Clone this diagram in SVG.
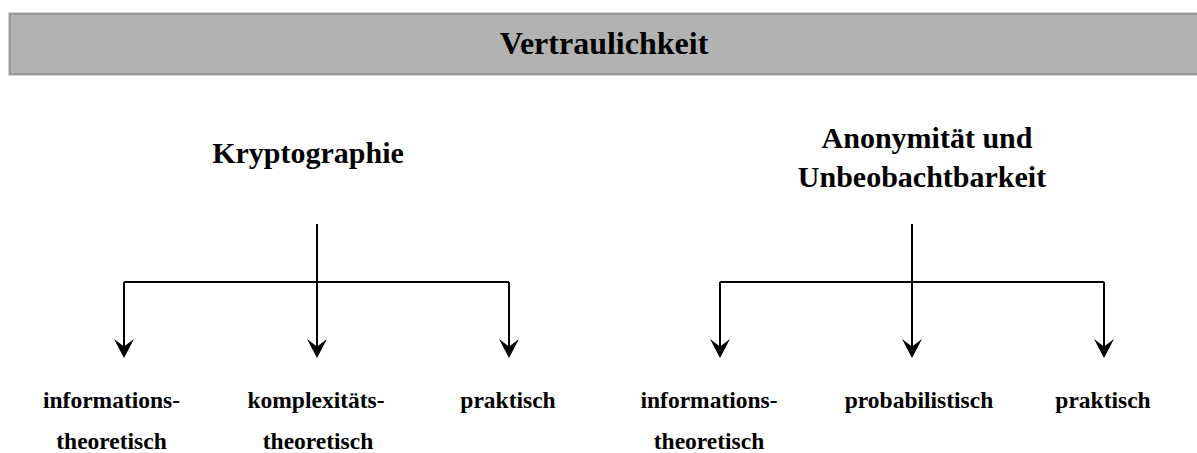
<svg xmlns="http://www.w3.org/2000/svg" width="1197" height="453" viewBox="0 0 1197 453">
<style>
  text { font-family: "Liberation Serif", "Times New Roman", serif; font-weight: bold; fill: #000; text-anchor: middle; }
  .title { font-size: 32px; }
  .head { font-size: 30px; }
  .leaf { font-size: 23.5px; }
  .conn { stroke: #000; stroke-width: 2; fill: none; }
  .arrow { stroke: #000; stroke-width: 2; fill: none; marker-end: url(#ah); }
</style>
<defs>
  <marker id="ah" viewBox="0 0 19 20" refX="11" refY="10" markerWidth="19" markerHeight="20" markerUnits="userSpaceOnUse" orient="auto">
    <path d="M0,0 L19,10 L0,20 L7.5,10 Z" fill="#000"/>
  </marker>
</defs>
<rect width="1197" height="453" fill="#fff"/>
<g id="title">
  <rect x="8.5" y="12.5" width="1200" height="63" fill="none" stroke="#d4d4d4" stroke-width="1"/>
  <rect x="10" y="14" width="1200" height="60" fill="#b2b2b2" stroke="#999" stroke-width="2"/>
  <text class="title" x="604" y="54">Vertraulichkeit</text>
</g>
<g id="kryptographie">
  <text class="head" x="308" y="163">Kryptographie</text>
</g>
<g id="anonymitaet">
  <text class="head" x="927" y="148">Anonymität und</text>
  <text class="head" x="922" y="187">Unbeobachtbarkeit</text>
</g>
<g id="k-info">
  <text class="leaf" x="111.5" y="408">informations-</text>
  <text class="leaf" x="111.5" y="449">theoretisch</text>
</g>
<g id="k-komplex">
  <text class="leaf" x="316" y="408">komplexitäts-</text>
  <text class="leaf" x="318" y="449">theoretisch</text>
</g>
<g id="k-praktisch">
  <text class="leaf" x="508" y="408">praktisch</text>
</g>
<g id="a-info">
  <text class="leaf" x="709" y="408">informations-</text>
  <text class="leaf" x="709" y="449">theoretisch</text>
</g>
<g id="a-prob">
  <text class="leaf" x="919" y="408">probabilistisch</text>
</g>
<g id="a-praktisch">
  <text class="leaf" x="1103" y="408">praktisch</text>
</g>
<g id="connectors">
  <path class="conn" d="M317,224 V282 M124,282 H509"/>
  <path class="arrow" d="M124,282 V350"/>
  <path class="arrow" d="M317,282 V350"/>
  <path class="arrow" d="M509,282 V350"/>
  <path class="conn" d="M912,224 V282 M720,282 H1104"/>
  <path class="arrow" d="M720,282 V350"/>
  <path class="arrow" d="M912,282 V350"/>
  <path class="arrow" d="M1104,282 V350"/>
</g>
</svg>
